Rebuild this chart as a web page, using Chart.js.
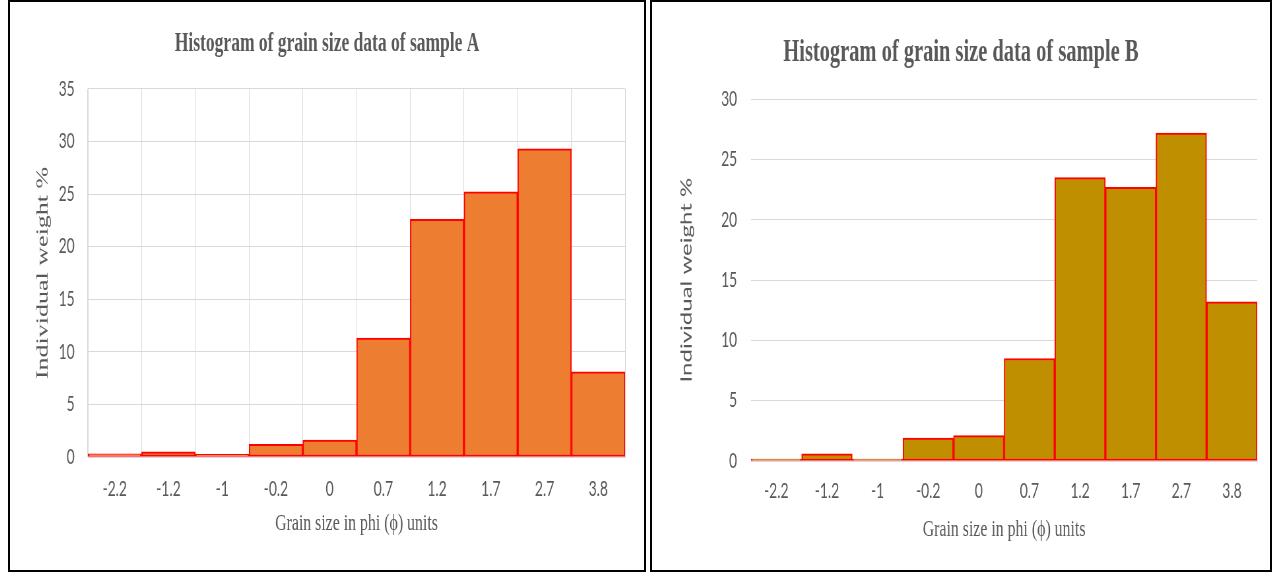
<!DOCTYPE html>
<html>
<head>
<meta charset="utf-8">
<script src="https://cdn.jsdelivr.net/npm/chart.js@4.4.0/dist/chart.umd.min.js"></script>
<style>
    body { margin: 0; background: #fff; width: 1276px; height: 572px; overflow: hidden; position: relative; }
    .panel { position: absolute; top: 0; height: 568px; border: 2px solid #000; background: #fff; overflow: hidden; }
    .squeeze { transform: scaleX(0.66); transform-origin: 0 0; }
</style>
</head>
<body>
<div class="panel" style="left:8px; width:634px;">
    <div class="squeeze"><canvas id="chartA" width="961" height="567"></canvas></div>
</div>
<div class="panel" style="left:650px; width:618px;">
    <div class="squeeze"><canvas id="chartB" width="936" height="567"></canvas></div>
</div>
<script>
// grain size classes (phi units)
var phiLabels = ["-2.2", "-1.2", "-1", "-0.2", "0", "0.7", "1.2", "1.7", "2.7", "3.8"];

// individual weight %
var weightA = [0.3, 0.5, 0.25, 1.2, 1.6, 11.3, 22.6, 25.2, 29.3, 8.1];
var weightB = [0.15, 0.6, 0.15, 1.9, 2.1, 8.5, 23.5, 22.7, 27.2, 13.2];

var ticksA = [0, 5, 10, 15, 20, 25, 30, 35];
var ticksB = [0, 5, 10, 15, 20, 25, 30];

var grey = "#595959";
var gridGrey = "#D9D9D9";

function makeChart(id, cfg) {
    return new Chart(id, {
        type: "bar",
        data: {
            labels: phiLabels,
            datasets: [{
                data: cfg.values,
                backgroundColor: cfg.fill,
                borderColor: "#FF0000",
                borderWidth: 2,
                borderSkipped: false,
                barPercentage: 1,
                categoryPercentage: 1
            }]
        },
        options: {
            responsive: false,
            animation: false,
            plugins: {
                legend: { display: false },
                tooltip: { enabled: false },
                title: {
                    display: true,
                    text: cfg.title,
                    color: grey,
                    font: { family: "Liberation Serif", size: cfg.titleSize, weight: "bold" },
                    padding: { top: cfg.titleTop, bottom: cfg.titleBottom }
                }
            },
            scales: {
                x: {
                    grid: { display: cfg.xGrid, color: gridGrey, drawTicks: false },
                    border: { color: gridGrey },
                    ticks: { color: grey, padding: cfg.xTickPad, font: { family: "Lato", size: 21 } },
                    title: {
                        display: true,
                        text: "Grain size in phi (\u03d5) units",
                        color: grey,
                        font: { family: "Liberation Serif", size: 24 },
                        padding: { top: 0, bottom: cfg.xTitleBottom }
                    },
                    afterFit: function(scale) { scale.height = cfg.xHeight; }
                },
                y: {
                    min: 0,
                    max: cfg.ticks[cfg.ticks.length - 1],
                    grid: { color: gridGrey, drawTicks: false },
                    border: { display: cfg.xGrid, color: gridGrey },
                    afterBuildTicks: function(scale) {
                        scale.ticks = cfg.ticks.map(function(v) { return { value: v }; });
                    },
                    ticks: { color: grey, padding: cfg.yTickPad, font: { family: "Lato", size: 21 } },
                    title: {
                        display: true,
                        text: "Individual weight %",
                        color: grey,
                        font: cfg.yTitleFont,
                        padding: { top: cfg.yTitleTop, bottom: 0 }
                    },
                    afterFit: function(scale) { scale.width = cfg.yWidth; }
                },
                // empty right-hand strip so the title stays centred on the panel
                spare: {
                    position: "right",
                    grid: { display: false },
                    border: { display: false },
                    ticks: { display: false },
                    afterFit: function(scale) { scale.width = cfg.rightPad; }
                }
            }
        }
    });
}

var chartA = makeChart("chartA", {
    values: weightA,
    ticks: ticksA,
    fill: "#ED7D31",
    title: "Histogram of grain size data of sample A",
    titleSize: 26.5,
    titleTop: 26,
    titleBottom: 29,
    rightPad: 29,
    xGrid: true,
    xHeight: 112,
    xTickPad: 20,
    xTitleBottom: 31,
    yWidth: 118,
    yTickPad: 20,
    yTitleTop: 35,
    yTitleFont: { family: "Liberation Serif", size: 26 }
});

var chartB = makeChart("chartB", {
    values: weightB,
    ticks: ticksB,
    fill: "#BF8F00",
    title: "Histogram of grain size data of sample B",
    titleSize: 31,
    titleTop: 32,
    titleBottom: 28,
    rightPad: 19,
    xGrid: false,
    xHeight: 108,
    xTickPad: 18,
    xTitleBottom: 25,
    yWidth: 150,
    yTickPad: 21,
    yTitleTop: 38,
    yTitleFont: { family: "Lato", size: 24 }
});
</script>
</body>
</html>
